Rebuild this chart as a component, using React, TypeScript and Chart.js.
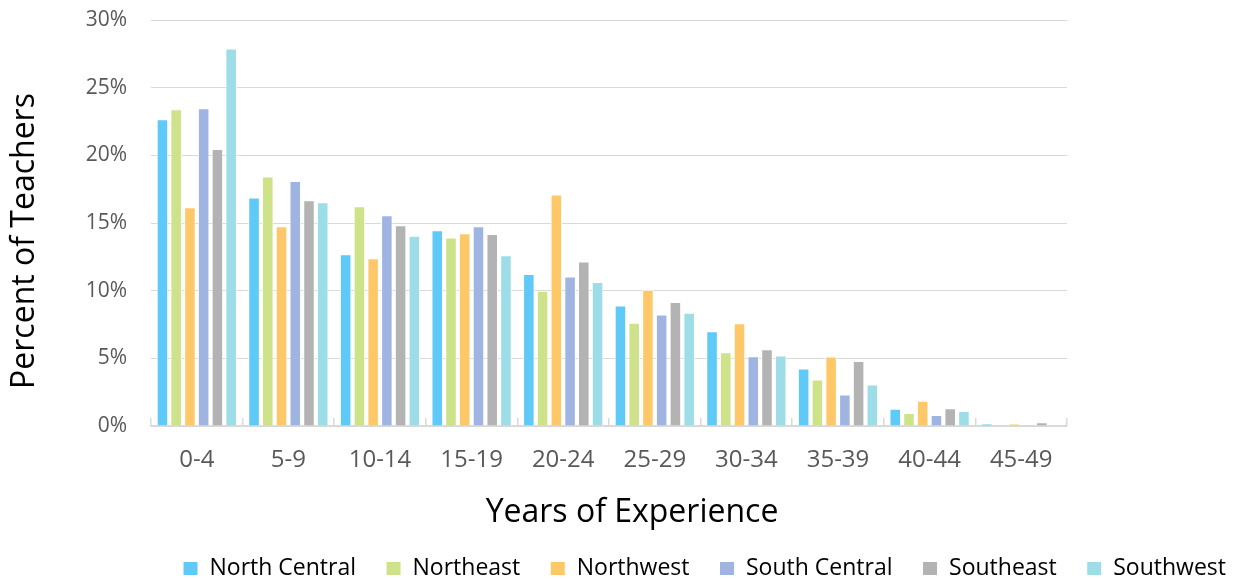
import React, { useEffect, useRef } from "react";
import { Chart, registerables } from "chart.js";

Chart.register(...registerables);

const categories = ["0-4", "5-9", "10-14", "15-19", "20-24", "25-29", "30-34", "35-39", "40-44", "45-49"];
const northCentral = [22.67, 16.89, 12.69, 14.47, 11.23, 8.91, 7.01, 4.24, 1.28, 0.17];
const northeast = [23.4, 18.44, 16.24, 13.93, 10.0, 7.63, 5.45, 3.43, 0.96, 0.1];
const northwest = [16.17, 14.76, 12.39, 14.24, 17.11, 10.07, 7.6, 5.13, 1.87, 0.17];
const southCentral = [23.48, 18.1, 15.58, 14.76, 11.04, 8.24, 5.16, 2.32, 0.81, 0.09];
const southeast = [20.47, 16.69, 14.84, 14.19, 12.15, 9.16, 5.68, 4.81, 1.31, 0.27];
const southwest = [27.9, 16.54, 14.05, 12.61, 10.64, 8.37, 5.21, 3.06, 1.11, 0.09];

const seriesNames = ["North Central", "Northeast", "Northwest", "South Central", "Southeast", "Southwest"];
const seriesColors = ["#5FC9F8", "#CEE28A", "#FEC868", "#A0B4E2", "#B3B3B3", "#9CDDE7"];
const yTicks = [0, 5, 10, 15, 20, 25, 30];
const xTitle = "Years of Experience";
const yTitle = "Percent of Teachers";

const FONT = "'Open Sans'";

const axisTitlesPlugin = {
  id: "axisTitles",
  afterDraw(chart: any) {
    const { ctx, chartArea } = chart;
    ctx.save();
    ctx.fillStyle = "#000000";
    ctx.font = `32px ${FONT}`;
    ctx.textAlign = "center";
    ctx.textBaseline = "middle";
    ctx.fillText(xTitle, (chartArea.left + chartArea.right) / 2 + 23, chartArea.bottom + 87);
    ctx.translate(chartArea.left - 126, (chartArea.top + chartArea.bottom) / 2 + 18);
    ctx.rotate(-Math.PI / 2);
    ctx.fillText(yTitle, 0, 0);
    ctx.restore();
  },
};

export default function App() {
  const ref = useRef<HTMLCanvasElement | null>(null);

  useEffect(() => {
    document.body.style.margin = "0";
    const values = [northCentral, northeast, northwest, southCentral, southeast, southwest];
    const chart = new Chart(ref.current as HTMLCanvasElement, {
      type: "bar",
      data: {
        labels: categories,
        datasets: seriesNames.map((name, i) => ({
          label: name,
          data: values[i],
          backgroundColor: seriesColors[i],
          borderColor: "#FFFFFF",
          borderWidth: 1,
          categoryPercentage: 0.9,
          barPercentage: 0.84,
          yAxisID: "y",
        })),
      },
      plugins: [axisTitlesPlugin],
      options: {
        animation: false,
        responsive: true,
        maintainAspectRatio: false,
        layout: { padding: { top: 20, left: 0, right: -17, bottom: -11 } },
        plugins: {
          tooltip: { enabled: false },
          legend: {
            position: "bottom",
            align: "end",
            labels: {
              color: "#000000",
              font: { family: FONT, size: 23 },
              boxWidth: 15,
              boxHeight: 14,
              padding: 30,
            },
          },
        },
        scales: {
          x: {
            grid: {
              display: true,
              drawOnChartArea: false,
              drawTicks: true,
              tickLength: -8,
              color: "#D9D9D9",
              lineWidth: 1.5,
            },
            border: { display: true, color: "#D9D9D9", width: 1.5 },
            ticks: { color: "#595959", font: { family: FONT, size: 24 }, padding: 28 },
            afterFit: (axis: any) => {
              axis.height = 101;
            },
          },
          y: {
            min: 0,
            max: 30,
            afterBuildTicks: (axis: any) => {
              axis.ticks = yTicks.map((v) => ({ value: v }));
            },
            grid: { color: "#D9D9D9", lineWidth: 1, drawTicks: false },
            border: { display: false },
            ticks: {
              color: "#595959",
              font: { family: FONT, size: 21 },
              padding: 24,
              callback: (v: any) => `${v}%`,
            },
            afterFit: (axis: any) => {
              axis.width = 151;
              axis.paddingTop = 0;
              axis.paddingBottom = 0;
            },
          },
          y2: {
            position: "right",
            display: true,
            grid: { display: false, drawTicks: false },
            border: { display: false },
            ticks: { display: false },
            afterFit: (axis: any) => {
              axis.width = 189;
            },
          },
        },
      },
    });
    return () => chart.destroy();
  }, []);

  return (
    <div style={{ width: 1239, height: 579, position: "relative" }}>
      <canvas ref={ref} />
    </div>
  );
}
